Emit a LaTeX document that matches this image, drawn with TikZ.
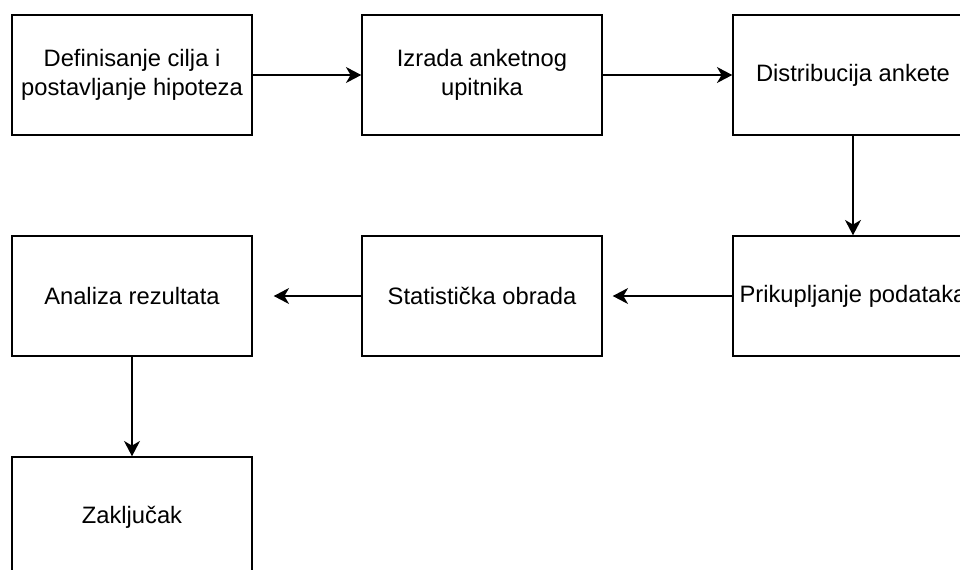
\documentclass[tikz,border=0pt]{standalone}
\usepackage{fontspec}
\setmainfont{Liberation Sans}
\usetikzlibrary{arrows.meta}

\begin{document}
\begin{tikzpicture}[x=0.75pt,y=-0.75pt,
  korak/.style={draw,line width=1.1pt,minimum width=180pt,minimum height=90pt,
    inner sep=0pt,align=center,font=\fontsize{17.8}{21.5}\selectfont},
  strelica/.style={line width=1.1pt,-{Stealth[length=11.5pt,width=12pt,inset=3.5pt]}}]

% Page frame
\useasboundingbox (0,0) rectangle (960,569);

% First row
\node[korak] (cilj) at (132,75) {Definisanje cilja i\\postavljanje hipoteza};
\node[korak] (upitnik) at (482,75) {Izrada anketnog\\upitnika};
\node[korak] (distribucija) at (853,75) {Distribucija ankete};

% Second row
\node[korak] (analiza) at (132,296) {Analiza rezultata};
\node[korak] (obrada) at (482,296) {Statistička obrada};
\node[korak] (prikupljanje) at (853,296) {Prikupljanje podataka};

% Last step
\node[korak] (zakljucak) at (132,517) {Zaključak};

% Arrows
\draw[strelica] (cilj) -- (upitnik);
\draw[strelica] (upitnik) -- (distribucija);
\draw[strelica] (distribucija) -- (prikupljanje);
\draw[strelica,shorten >=7.5pt] (prikupljanje) -- (obrada);
\draw[strelica,shorten >=15.75pt] (obrada) -- (analiza);
\draw[strelica] (analiza) -- (zakljucak);

\end{tikzpicture}
\end{document}
